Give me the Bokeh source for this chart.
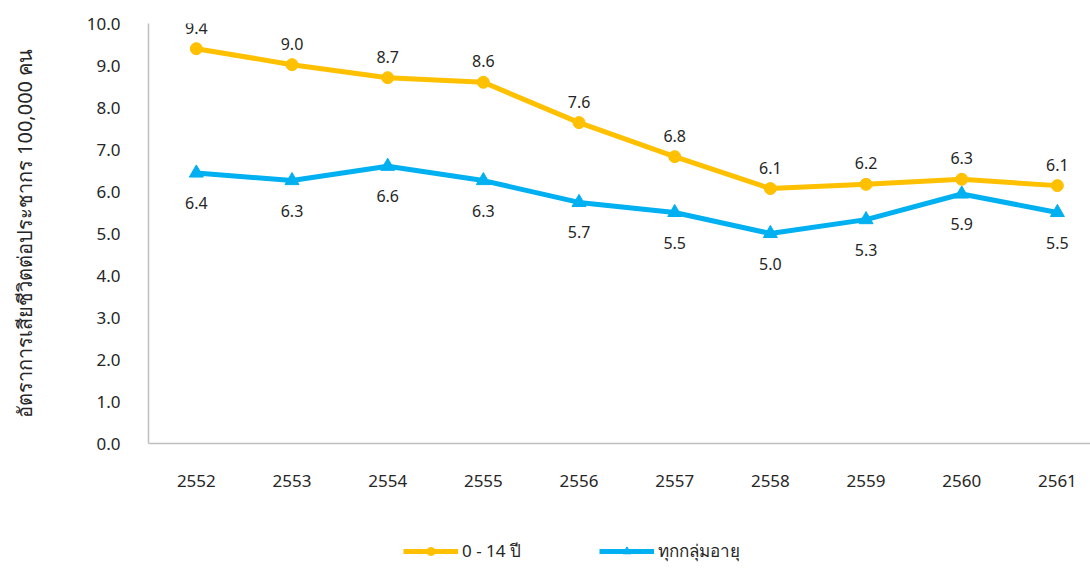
from bokeh.plotting import figure
from bokeh.layouts import column
from bokeh.models import Range1d, FixedTicker, Legend, LegendItem, ColumnDataSource
from bokeh.core.properties import value
from bokeh.embed import file_html
from bokeh.resources import INLINE

years = [2552, 2553, 2554, 2555, 2556, 2557, 2558, 2559, 2560, 2561]
child = [9.40, 9.02, 8.71, 8.60, 7.64, 6.83, 6.07, 6.17, 6.29, 6.14]
allages = [6.44, 6.26, 6.60, 6.26, 5.74, 5.50, 5.00, 5.33, 5.94, 5.50]
series_names = ["0 - 14 ปี", "ทุกกลุ่มอายุ"]
y_title = "อัตราการเสียชีวิตต่อประชากร 100,000 คน"

FONT = "Noto Sans"
TXT = "#262626"
YEL = "#FFC000"
BLU = "#00B0F0"

W = 1090
p = figure(width=W, height=500, output_backend="svg", toolbar_location=None,
           x_range=Range1d(years[0] - 0.5, years[0] - 0.5 + 9.846), y_range=Range1d(0, 10),
           min_border_left=148, min_border_right=0, min_border_top=23, min_border_bottom=57)
p.outline_line_color = None
p.grid.visible = False
p.background_fill_color = "white"

p.xaxis.ticker = FixedTicker(ticks=years)
p.xaxis.major_label_overrides = {y: str(y) for y in years}
p.yaxis.ticker = FixedTicker(ticks=[i for i in range(0, 11)])
p.yaxis.major_label_overrides = {i: f"{i:.1f}" for i in range(0, 11)}
for ax in (p.xaxis, p.yaxis):
    ax.axis_line_color = "#BFBFBF"
    ax.axis_line_width = 1.5
    ax.major_tick_line_color = None
    ax.minor_tick_line_color = None
    ax.major_label_text_font = FONT
    ax.major_label_text_font_size = "17px"
    ax.major_label_text_color = TXT
p.xaxis.major_label_standoff = 25
p.yaxis.major_label_standoff = 22
p.yaxis.axis_label = y_title
p.yaxis.axis_label_text_font = FONT
p.yaxis.axis_label_text_font_size = "20px"
p.yaxis.axis_label_text_font_style = "normal"
p.yaxis.axis_label_text_color = TXT
p.yaxis.axis_label_standoff = 46

src1 = ColumnDataSource(dict(x=years, y=child, t=[f"{v:.1f}" for v in child]))
src2 = ColumnDataSource(dict(x=years, y=allages, t=[f"{v:.1f}" for v in allages]))

p.line("x", "y", source=src1, line_color=YEL, line_width=5)
p.scatter("x", "y", source=src1, marker="circle", size=12, fill_color=YEL, line_color=YEL)
p.line("x", "y", source=src2, line_color=BLU, line_width=5)
p.scatter("x", "y", source=src2, marker="triangle", size=14, fill_color=BLU, line_color=BLU)

p.text("x", "y", text="t", source=src1, text_align="center", text_baseline="middle",
       y_offset=-21, text_font=value(FONT), text_font_size="16px", text_color=TXT)
p.text("x", "y", text="t", source=src2, text_align="center", text_baseline="middle",
       y_offset=30, text_font=value(FONT), text_font_size="16px", text_color=TXT)

# legend strip (its ranges are far from the data, so only the legend keys show)
q = figure(width=W, height=68, output_backend="svg", toolbar_location=None,
           x_range=Range1d(0, 1), y_range=Range1d(0, 1),
           min_border_left=0, min_border_right=0, min_border_top=0, min_border_bottom=0)
q.axis.visible = False
q.grid.visible = False
q.outline_line_color = None
a1 = q.line("x", "y", source=src1, line_color=YEL, line_width=5)
b1 = q.scatter("x", "y", source=src1, marker="circle", size=12, fill_color=YEL, line_color=YEL)
a2 = q.line("x", "y", source=src2, line_color=BLU, line_width=5)
b2 = q.scatter("x", "y", source=src2, marker="triangle", size=14, fill_color=BLU, line_color=BLU)
legend = Legend(items=[LegendItem(label=series_names[0], renderers=[a1, b1]),
                       LegendItem(label=series_names[1], renderers=[a2, b2])],
                orientation="horizontal", location=(255, 4),
                label_text_font=FONT, label_text_font_size="17px", label_text_color=TXT,
                glyph_width=55, glyph_height=20, spacing=78, label_standoff=4,
                border_line_color=None, background_fill_alpha=0, padding=0, margin=0)
q.add_layout(legend, "center")

open("out.html", "w").write(file_html(column(p, q, spacing=0), INLINE))
